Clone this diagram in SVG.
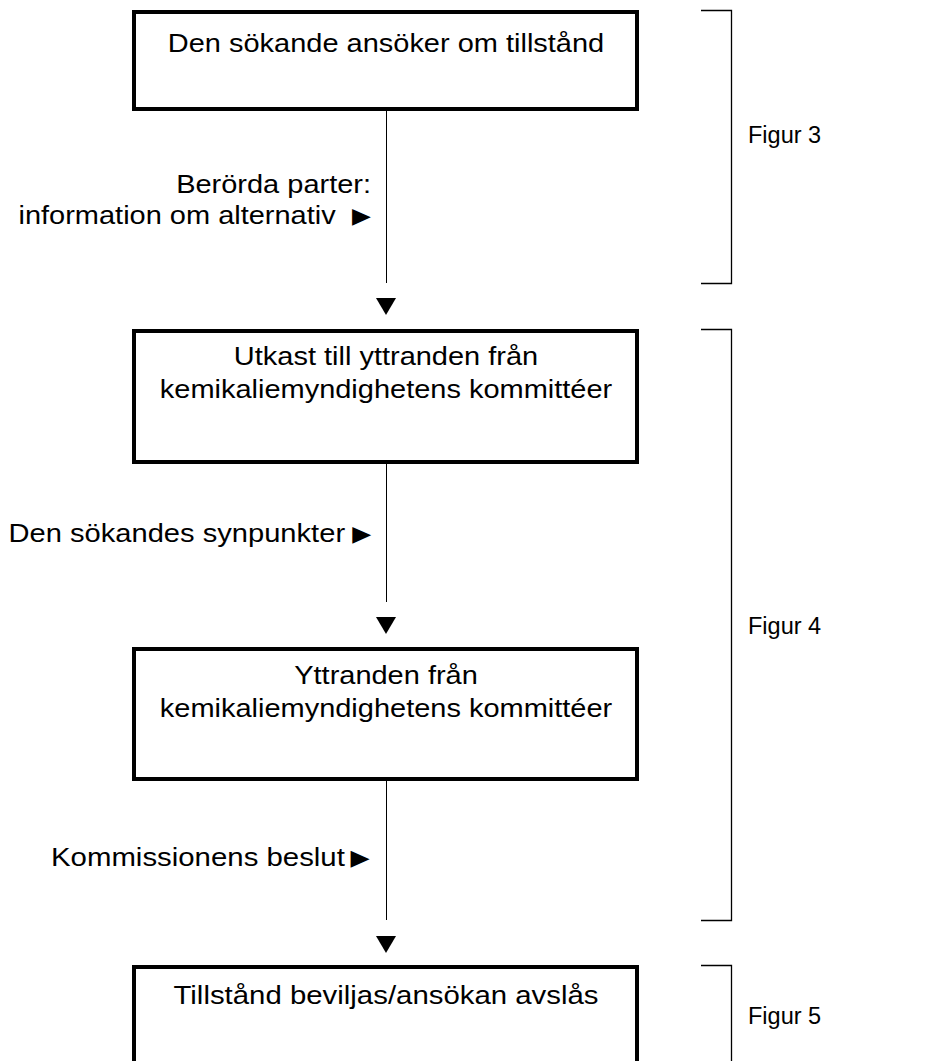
<svg xmlns="http://www.w3.org/2000/svg" width="942" height="1061" viewBox="0 0 942 1061">
<style>
.box{fill:#fff;stroke:#000;stroke-width:4}
.conn{stroke:#000;stroke-width:1;fill:none}
.head{fill:#000;stroke:none}
.brk{stroke:#000;stroke-width:1.3;fill:none}
.t{font-family:"Liberation Sans",Arial,sans-serif;font-size:26px;fill:#000}
.m{text-anchor:middle}
.e{text-anchor:end}
.tri{font-family:"DejaVu Sans",sans-serif;font-size:22px}
.fig{font-family:"Liberation Sans",Arial,sans-serif;font-size:23.5px;fill:#000}
</style>
<rect width="942" height="1061" fill="#fff"/>
<g id="connectors">
<line class="conn" x1="386.5" y1="111" x2="386.5" y2="283"/>
<polygon class="head" points="376,298 396,298 386,315"/>
<line class="conn" x1="386.5" y1="464" x2="386.5" y2="602"/>
<polygon class="head" points="376,617 396,617 386,634"/>
<line class="conn" x1="386.5" y1="781" x2="386.5" y2="920"/>
<polygon class="head" points="376,936 396,936 386,953"/>
</g>
<g id="node1">
<rect class="box" x="134" y="12" width="503" height="97"/>
<text class="t m" transform="translate(386,52) scale(1.115,1)">Den sökande ansöker om tillstånd</text>
</g>
<g id="label1">
<text class="t e" transform="translate(371,193) scale(1.115,1)">Berörda parter:</text>
<text class="t" transform="translate(18.5,224) scale(1.115,1)">information om alternativ <tspan class="tri" x="299" dy="-1">▶</tspan></text>
</g>
<g id="node2">
<rect class="box" x="134" y="331" width="503" height="131"/>
<text class="t m" transform="translate(386,365) scale(1.115,1)">Utkast till yttranden från</text>
<text class="t m" transform="translate(386,398) scale(1.115,1)">kemikaliemyndighetens kommittéer</text>
</g>
<g id="label2">
<text class="t" transform="translate(8.5,542) scale(1.12,1)">Den sökandes synpunkter<tspan class="tri" x="307" dy="-1">▶</tspan></text>
</g>
<g id="node3">
<rect class="box" x="134" y="649" width="503" height="130"/>
<text class="t m" transform="translate(386,684) scale(1.115,1)">Yttranden från</text>
<text class="t m" transform="translate(386,717) scale(1.115,1)">kemikaliemyndighetens kommittéer</text>
</g>
<g id="label3">
<text class="t" transform="translate(51,866) scale(1.13,1)">Kommissionens beslut<tspan class="tri" x="265" dy="-1">▶</tspan></text>
</g>
<g id="node4">
<rect class="box" x="134" y="967" width="503" height="200"/>
<text class="t m" transform="translate(386,1004) scale(1.13,1)">Tillstånd beviljas/ansökan avslås</text>
</g>
<g id="figur3">
<path class="brk" d="M701,10.5 H731.5 V283.5 H701"/>
<text class="fig" x="748" y="143">Figur 3</text>
</g>
<g id="figur4">
<path class="brk" d="M701,329.5 H731.5 V920.5 H701"/>
<text class="fig" x="748" y="634">Figur 4</text>
</g>
<g id="figur5">
<path class="brk" d="M701,965.5 H731.5 V1070"/>
<text class="fig" x="748" y="1024">Figur 5</text>
</g>
</svg>
